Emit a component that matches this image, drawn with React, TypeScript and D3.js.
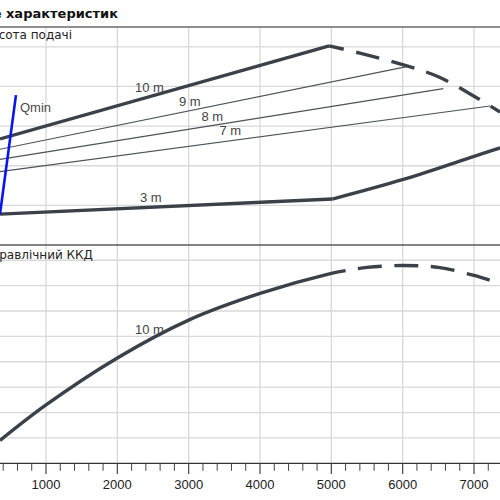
import React from "react";
import * as d3 from "d3";

type Pt = [number, number];

// x axis (flow) tick labels
const xTicks = [1000, 2000, 3000, 4000, 5000, 6000, 7000];
const headGrid = [2, 4, 6, 8, 10];
const effGrid = [10, 20, 30, 40, 50, 60, 70, 80];

// head curves
const head10Solid: Pt[] = [[355, 5.35], [4970, 10.05]];
const head10Dashed: Pt[] = [[4970, 10.05], [5400, 9.68], [6000, 9.1], [6500, 8.49], [7000, 7.51], [7365, 6.71]];
const head9: Pt[] = [[355, 4.83], [6057, 9.0]];
const head8: Pt[] = [[355, 4.32], [6570, 7.89]];
const head7: Pt[] = [[355, 3.7], [7225, 7.01]];
const head3: Pt[] = [[355, 1.56], [5014, 2.32], [6009, 3.31], [7014, 4.49], [7365, 4.9]];
const qmin: Pt[] = [[355, 1.56], [579, 7.56]];

// efficiency curve
const eff10Solid: Pt[] = [[355, 9.0], [1000, 23.0], [2000, 41.5], [3000, 56.4], [4000, 66.9], [5000, 74.8], [5200, 75.9]];
const eff10Dashed: Pt[] = [[5200, 75.9], [5500, 77.2], [6000, 77.9], [6500, 77.2], [7000, 74.0], [7365, 70.9]];

const title = "Поле характеристик";
const headTitle = "Висота подачі";
const effTitle = "Гідравлічний ККД";

export default function App() {
  const x = d3.scaleLinear().domain([1000, 7000]).range([46, 474]);
  const yH = d3.scaleLinear().domain([0, 11]).range([245, 27]);
  const yE = d3.scaleLinear().domain([0, 86]).range([463.3, 245]);

  const smooth = d3.curveCatmullRom.alpha(0.5);
  const lineH = d3.line<Pt>().x((d) => x(d[0])).y((d) => yH(d[1]));
  const lineHc = d3.line<Pt>().x((d) => x(d[0])).y((d) => yH(d[1])).curve(smooth);
  const lineE = d3.line<Pt>().x((d) => x(d[0])).y((d) => yE(d[1])).curve(smooth);

  const minor = d3.range(400, 7400, 200).filter((v) => v % 1000 !== 0);
  const dark = "#3a4149";
  const thin = "#4d5359";
  const grid = "#d9d9d9";
  const sans = "'Liberation Sans', Arial, sans-serif";
  const dv = "'DejaVu Sans', Verdana, sans-serif";

  return (
    <svg width={500} height={500} style={{ position: "absolute", left: 0, top: 0 }}>
      <rect width={500} height={500} fill="#fff" />
      {/* grids */}
      {headGrid.map((g) => (
        <line key={"hg" + g} x1={0} x2={500} y1={yH(g)} y2={yH(g)} stroke={grid} strokeWidth={1.3} />
      ))}
      {effGrid.map((g) => (
        <line key={"eg" + g} x1={0} x2={500} y1={yE(g)} y2={yE(g)} stroke={grid} strokeWidth={1.3} />
      ))}
      {xTicks.map((t) => (
        <line key={"vg" + t} x1={x(t)} x2={x(t)} y1={27} y2={463.3} stroke={grid} strokeWidth={1.3} />
      ))}
      {/* borders */}
      <line x1={0} x2={500} y1={27} y2={27} stroke="#6a6a6a" strokeWidth={1.3} />
      <line x1={0} x2={500} y1={245} y2={245} stroke="#5a5a5a" strokeWidth={1.3} />
      <line x1={0} x2={500} y1={463.3} y2={463.3} stroke="#333" strokeWidth={1.3} />
      {/* ticks */}
      {minor.map((t) => (
        <line key={"mt" + t} x1={x(t)} x2={x(t)} y1={463.3} y2={470.8} stroke="#444" strokeWidth={1} />
      ))}
      {xTicks.map((t) => (
        <g key={"xt" + t}>
          <line x1={x(t)} x2={x(t)} y1={463.3} y2={474} stroke="#444" strokeWidth={1.2} />
          <text x={x(t)} y={489} textAnchor="middle" fontFamily={sans} fontSize={13} fill="#222">
            {t}
          </text>
        </g>
      ))}
      {/* titles (cropped at the left edge, as in the reference) */}
      <text x={118} y={17.5} textAnchor="end" fontFamily={dv} fontSize={13} fontWeight="bold" fill="#111">
        {title}
      </text>
      <text x={72} y={39} textAnchor="end" fontFamily={dv} fontSize={12} fill="#222">
        {headTitle}
      </text>
      <text x={93} y={259} textAnchor="end" fontFamily={dv} fontSize={12} fill="#222">
        {effTitle}
      </text>
      {/* head curves */}
      <path d={lineH(head9) || ""} fill="none" stroke={thin} strokeWidth={1.1} />
      <path d={lineH(head8) || ""} fill="none" stroke={thin} strokeWidth={1.1} />
      <path d={lineH(head7) || ""} fill="none" stroke={thin} strokeWidth={1.1} />
      <path d={lineH(head10Solid) || ""} fill="none" stroke={dark} strokeWidth={3.4} />
      <path
        d={lineHc(head10Dashed) || ""}
        fill="none"
        stroke={dark}
        strokeWidth={3.4}
        strokeDasharray="24 12.5"
        strokeDashoffset={9}
      />
      <path d={lineH(head3.slice(0, 2)) || ""} fill="none" stroke={dark} strokeWidth={3.4} />
      <path d={lineHc(head3.slice(1)) || ""} fill="none" stroke={dark} strokeWidth={3.4} />
      <path d={lineH(qmin) || ""} fill="none" stroke="#0a14f0" strokeWidth={2.6} />
      {/* labels */}
      <text x={20} y={112} fontFamily={sans} fontSize={13} fill="#4a4a4a">Qmin</text>
      <text x={135} y={92} fontFamily={sans} fontSize={13} fill="#444">10 m</text>
      <text x={179} y={106} fontFamily={sans} fontSize={13} fill="#444">9 m</text>
      <text x={201.5} y={120.7} fontFamily={sans} fontSize={13} fill="#444">8 m</text>
      <text x={219.5} y={135} fontFamily={sans} fontSize={13} fill="#444">7 m</text>
      <text x={140} y={201.7} fontFamily={sans} fontSize={13} fill="#444">3 m</text>
      {/* efficiency */}
      <path d={lineE(eff10Solid) || ""} fill="none" stroke={dark} strokeWidth={3.4} />
      <path
        d={lineE(eff10Dashed) || ""}
        fill="none"
        stroke={dark}
        strokeWidth={3.4}
        strokeDasharray="24 12.5"
        strokeDashoffset={24}
      />
      <text x={135} y={334} fontFamily={sans} fontSize={13} fill="#444">10 m</text>
    </svg>
  );
}
